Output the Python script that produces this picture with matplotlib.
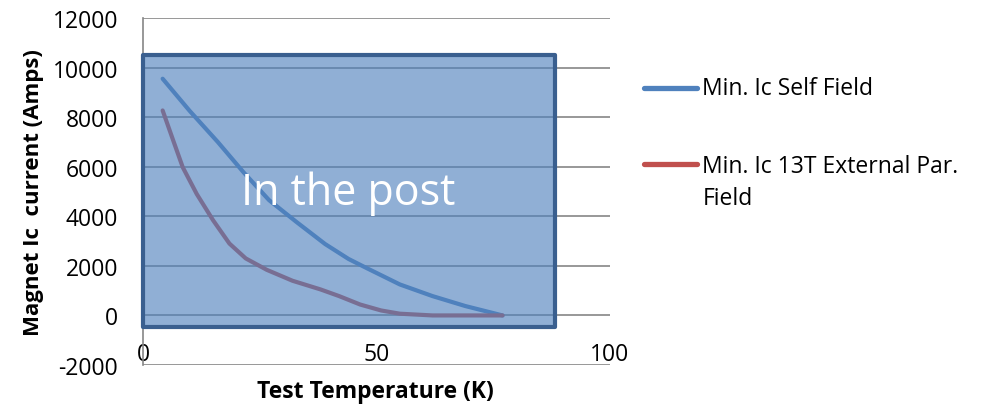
import matplotlib
matplotlib.use("Agg")
import matplotlib.pyplot as plt
from matplotlib.patches import Rectangle
from matplotlib.lines import Line2D

plt.rcParams['font.family'] = ['Open Sans', 'DejaVu Sans']
plt.rcParams['axes.unicode_minus'] = False

# values
temp_self = [4.2, 10, 16, 21.5, 27, 33, 39, 44, 48, 55, 62, 69, 77]
ic_self = [9550, 8250, 7000, 5780, 4650, 3750, 2880, 2280, 1900, 1250, 780, 380, 0]

temp_13t = [4.2, 6.5, 8.5, 11.5, 15, 18.5, 22, 26.5, 32, 38, 42, 46.5, 51, 55, 62, 70, 77]
ic_13t = [8270, 7040, 5980, 4900, 3840, 2900, 2300, 1840, 1400, 1050, 780, 440, 200, 70, 0, 0, 0]

series_names = ['Min. Ic Self Field', 'Min. Ic 13T External Par.\nField']
series_colors = ['#4F81BD', '#C0504D']

y_ticks = list(range(-2000, 12001, 2000))
x_ticks = [0, 50, 100]

fig = plt.figure(figsize=(9.81, 4.06), dpi=100)
ax = fig.add_axes([0.1458, 0.0985, 0.476, 0.8547])

ax.plot(temp_self, ic_self, color=series_colors[0], lw=3, solid_capstyle='round',
        solid_joinstyle='round', zorder=3)
ax.plot(temp_13t, ic_13t, color=series_colors[1], lw=3, solid_capstyle='round',
        solid_joinstyle='round', zorder=3)

ax.set_xlim(0, 100)
ax.set_ylim(-2000, 12000)
ax.set_yticks(y_ticks)
ax.set_xticks(x_ticks)
ax.grid(axis='y', color='#868686', lw=1.2, zorder=1)
ax.set_axisbelow(True)
for s in ['top', 'right']:
    ax.spines[s].set_visible(False)
ax.spines['left'].set_color('#868686')
ax.spines['left'].set_linewidth(1.2)
ax.spines['bottom'].set_position(('data', 0))
ax.spines['bottom'].set_visible(False)
ax.tick_params(axis='y', length=0, pad=18, labelsize=16.5)
ax.tick_params(axis='x', length=0, pad=19, labelsize=16.5)

ax.set_ylabel('Magnet Ic  current (Amps)', fontsize=16, fontweight='bold', labelpad=6)
fig.text(0.383, 0.035, 'Test Temperature (K)', fontsize=16.5, fontweight='bold', ha='center', va='center')

# overlay box "In the post"
ax.add_patch(Rectangle((0, -470), 88.2, 10970, facecolor='#4F81BD', edgecolor='none',
                       alpha=0.63, zorder=5, clip_on=False))
ax.add_patch(Rectangle((0, -470), 88.2, 10970, facecolor='none', edgecolor='#3A5F8F',
                       lw=3, joinstyle='round', zorder=6, clip_on=False))
ax.text(44, 4950, 'In the post', color='white', fontsize=31, ha='center', va='center', zorder=7)

# legend
leg_y = [0.781, 0.594]
for name, col, yy in zip(series_names, series_colors, leg_y):
    fig.add_artist(Line2D([0.656, 0.711], [yy, yy], color=col, lw=3.8, solid_capstyle='round'))
    if '\n' in name:
        fig.text(0.716, yy + 0.025, name, fontsize=16.5, ha='left', va='top', linespacing=1.45)
    else:
        fig.text(0.716, yy, name, fontsize=16.5, ha='left', va='center')

fig.savefig('out.png', dpi=100)
